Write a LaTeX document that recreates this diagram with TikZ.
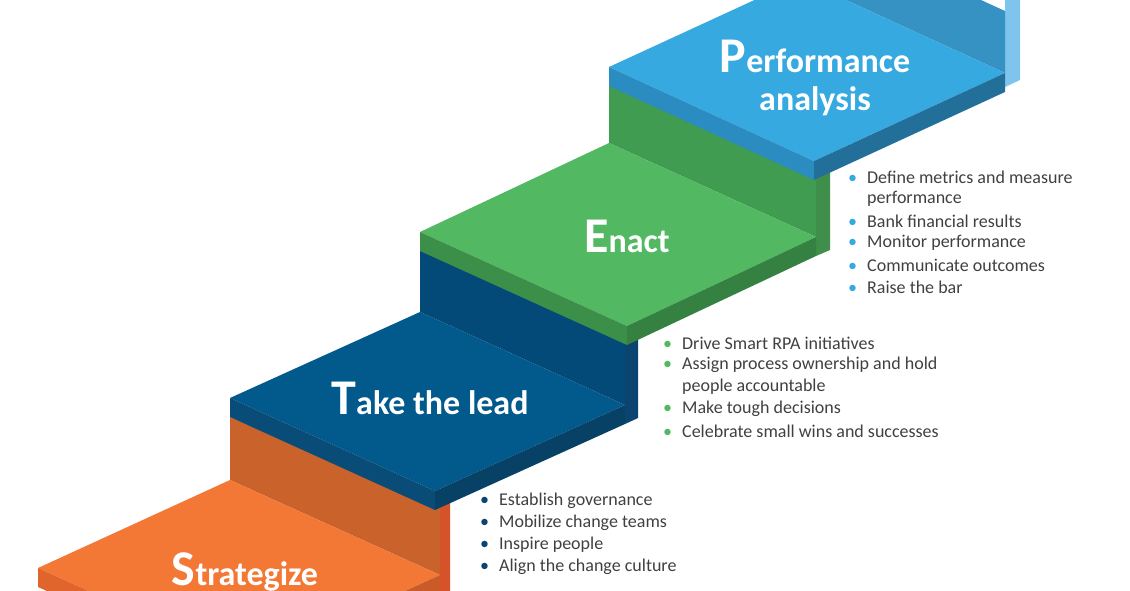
\documentclass[tikz,border=0pt]{standalone}
\usepackage{fontspec}
\setmainfont{Carlito}
\usetikzlibrary{positioning}
\definecolor{ortop}{HTML}{F37735}\definecolor{orrise}{HTML}{C9622B}\definecolor{orthick}{HTML}{E0652C}\definecolor{orside}{HTML}{D6532A}
\definecolor{bltop}{HTML}{025A8C}\definecolor{blrise}{HTML}{034A78}\definecolor{blthick}{HTML}{0A4C78}\definecolor{blside}{HTML}{0B4470}
\definecolor{grtop}{HTML}{52B862}\definecolor{grrise}{HTML}{409C50}\definecolor{grthick}{HTML}{3B8F48}\definecolor{grside}{HTML}{3F8F4B}
\definecolor{lbtop}{HTML}{36A9E1}\definecolor{lbrise}{HTML}{3592C2}\definecolor{lbthick}{HTML}{2A8CC0}\definecolor{lbside}{HTML}{7FC4EC}
\definecolor{txtgray}{HTML}{404040}
\tikzset{
  title/.style={text=white, font=\bfseries\fontsize{34}{36}\selectfont, align=center, inner sep=0pt},
  item/.style={anchor=west, text=txtgray, font=\fontsize{18}{20}\selectfont, inner sep=0pt}
}
\newcommand{\initial}[1]{{\fontsize{50}{50}\selectfont #1}}
\begin{document}
\begin{tikzpicture}[x=1pt, y=-1pt]
  \useasboundingbox (0,0) rectangle (1130,591);
  \clip (0,0) rectangle (1130,591);
  % stairs, bottom to top
  \begin{scope}
    \fill[orside] (440,502) -- (450,498) -- (450,591) -- (440,591) -- cycle;
    \fill[orrise] (230,417) -- (440,508) -- (440,575) -- (230,480) -- cycle;
    \fill[ortop] (38,568) -- (230,480) -- (440,575) -- (248,663) -- cycle;
    \fill[orthick] (38,568) -- (248,663) -- (248,682) -- (38,587) -- cycle;
    \fill[orthick!90!black] (248,663) -- (440,575) -- (440,594) -- (248,682) -- cycle;
  \end{scope}
  \begin{scope}
    \fill[blside] (625,338) -- (638,333) -- (638,418) -- (625,424) -- cycle;
    \fill[blrise] (420,250) -- (625,343) -- (625,405) -- (420,312) -- cycle;
    \fill[bltop] (230,398) -- (420,312) -- (625,405) -- (435,491) -- cycle;
    \fill[blthick] (230,398) -- (435,491) -- (435,510) -- (230,417) -- cycle;
    \fill[blthick!85!black] (435,491) -- (625,405) -- (625,424) -- (435,510) -- cycle;
  \end{scope}
  \begin{scope}
    \fill[grside] (816,173) -- (830,167) -- (830,250) -- (816,256) -- cycle;
    \fill[grrise] (609,85) -- (816,178) -- (816,237) -- (609,143) -- cycle;
    \fill[grtop] (420,232) -- (609,143) -- (816,237) -- (627,326) -- cycle;
    \fill[grthick] (420,232) -- (627,326) -- (627,345) -- (420,251) -- cycle;
    \fill[grthick!90!black] (627,326) -- (816,237) -- (816,256) -- (627,345) -- cycle;
  \end{scope}
  \begin{scope}
    \fill[lbside] (1005,0) -- (1020,0) -- (1020,80) -- (1005,87) -- cycle;
    \fill[lbrise] (800,-83) -- (1005,11) -- (1005,73) -- (800,-21) -- cycle;
    \fill[lbtop] (609,67) -- (800,-21) -- (1005,73) -- (814,161) -- cycle;
    \fill[lbthick] (609,67) -- (814,161) -- (814,180) -- (609,86) -- cycle;
    \fill[lbthick!80!black] (814,161) -- (1005,73) -- (1005,92) -- (814,180) -- cycle;
  \end{scope}
  % titles
  \node[title] (perf) at (815,78) {\initial{P}erformance\\[2pt]analysis};
  \node[title] (enact) at (627,236) {\initial{E}nact};
  \node[title] (lead) at (430,398) {\initial{T}ake the lead};
  \node[title] (strat) at (245,572) {\initial{S}trategize};
  % bullet lists
  \foreach \t [count=\i] in {Establish governance, Mobilize change teams, Inspire people, Align the change culture}
    \node[item] (s\i) at (480,479+22*\i) {\textcolor{blside}{\textbullet}\hspace{10pt}\t};
  \foreach \t [count=\i] in {Drive Smart RPA initiatives, Assign process ownership and hold, people accountable, Make tough decisions, Celebrate small wins and successes}
    \node[item] (l\i) at (663,321+22*\i) {\ifnum\i=3 \phantom{\textbullet}\else\textcolor{grtop}{\textbullet}\fi\hspace{10pt}\t};
  \foreach \t [count=\i] in {Define metrics and measure, performance, Bank financial results, Monitor performance, Communicate outcomes, Raise the bar}
    \node[item] (e\i) at (848,155+22*\i) {\ifnum\i=2 \phantom{\textbullet}\else\textcolor{lbtop}{\textbullet}\fi\hspace{10pt}\t};
\end{tikzpicture}
\end{document}
